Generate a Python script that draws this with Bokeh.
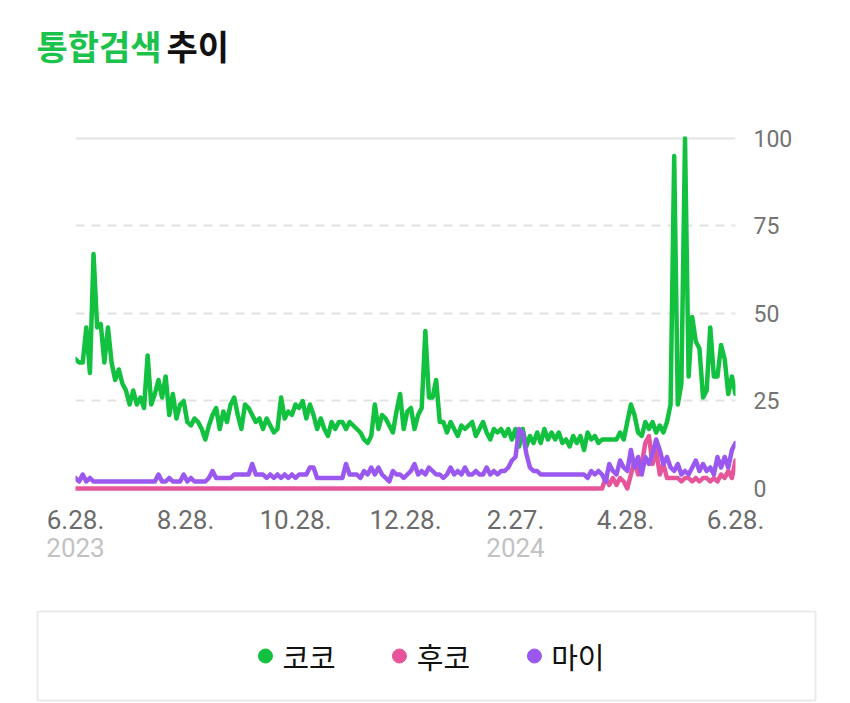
import pandas as pd
from bokeh.plotting import figure
from bokeh.models import (Range1d, LinearAxis, FixedTicker, Grid, Label, Legend,
                          LegendItem, ColumnDataSource)
from bokeh.layouts import column
from bokeh.embed import file_html
from bokeh.resources import INLINE

# ---------------- data (one value every 2 days from 2023-06-28) ----------------
start_date = "2023-06-28"
step = "2D"

koko = [
    37, 36, 36, 46, 33, 67, 46, 47, 36, 46, 36, 31, 34, 30, 28, 24, 28, 24, 26, 23,
    38, 24, 27, 31, 26, 32, 21, 27, 20, 24, 25, 19,
    18, 20, 19, 17, 14, 18, 21, 23, 17, 22, 19, 24, 26, 21, 17, 24, 23, 21, 19, 20,
    17, 20, 18, 16, 17, 26, 20, 22, 21, 24,
    23, 25, 20, 24, 21, 17, 20, 17, 15, 19, 17, 19, 19, 17, 19, 18, 17, 16, 14, 13,
    15, 24, 17, 21, 20, 18, 16, 22,
    27, 17, 22, 23, 17, 21, 23, 45, 26, 26, 31, 19, 19, 16, 19, 17, 15, 18, 17, 18,
    19, 15, 17, 19, 16, 14, 17, 16, 17, 15, 17, 14, 17, 12,
    17, 12, 15, 13, 16, 13, 17, 14, 16, 14, 16, 13, 14, 12, 15, 13, 15, 11, 16, 14,
    15, 13, 14, 14, 14, 14, 14, 16, 14,
    19, 24, 21, 16, 15, 19, 17, 19, 16, 18, 16, 19, 24, 95, 24, 30, 100, 32, 49, 42,
    40, 26, 28, 46, 32, 32, 41, 37, 27, 32, 27,
]

huko = [
    0, 0, 0, 0, 0, 0, 0, 0, 0, 0, 0, 0, 0, 0, 0, 0, 0, 0, 0, 0, 0,
    0, 0, 0, 0, 0, 0, 0, 0, 0, 0, 0, 0, 0, 0, 0, 0, 0, 0, 0, 0, 0,
    0, 0, 0, 0, 0, 0, 0, 0, 0, 0, 0, 0, 0, 0, 0, 0, 0, 0, 0, 0, 0,
    0, 0, 0, 0, 0, 0, 0, 0, 0, 0, 0, 0, 0, 0, 0, 0, 0, 0, 0, 0, 0,
    0, 0, 0, 0, 0, 0, 0, 0, 0, 0, 0, 0, 0, 0, 0, 0, 0, 0, 0, 0, 0,
    0, 0, 0, 0, 0, 0, 0, 0, 0, 0, 0, 0, 0, 0, 0, 0, 0, 0, 0, 0, 0,
    0, 0, 0, 0, 0, 0, 0, 0, 0, 0, 0, 0, 0, 0, 0, 0, 0, 0, 0, 0, 0,
    3, 1, 3, 1, 3, 2, 0, 4, 8, 4, 7, 13, 15, 7, 11, 4, 7, 3, 3, 3,
    3, 2, 3, 3, 2, 3, 2, 3, 3, 2, 3, 2, 4, 3, 5, 3, 8,
]

mai = [
    3, 2, 4, 2, 3, 2, 2, 2, 2, 2, 2, 2, 2, 2, 2, 2, 2, 2, 2, 2,
    2, 2, 2, 4, 2, 2, 3, 2, 2, 2, 4, 2,
    3, 2, 2, 2, 2, 3, 5, 3, 3, 3, 3, 3, 4, 4, 4, 4, 4, 7, 4, 4,
    4, 3, 4, 3, 4, 3, 4, 3, 4, 3,
    4, 4, 4, 6, 6, 3, 3, 3, 3, 3, 3, 3, 3, 7, 4, 4, 4, 3, 5, 4,
    6, 4, 6, 4, 3, 2, 5, 4,
    4, 3, 4, 5, 7, 4, 5, 4, 6, 5, 4, 4, 3, 4, 6, 4, 5, 4, 6, 4,
    4, 5, 4, 4, 6, 4, 5, 4, 5, 5, 6, 8, 9, 17,
    16, 10, 6, 5, 5, 4, 4, 4, 4, 4, 4, 4, 4, 4, 4, 4, 4, 4, 3, 5,
    4, 5, 4, 2, 7, 5, 4, 8, 6,
    5, 11, 6, 9, 4, 9, 7, 10, 14, 11, 7, 9, 6, 5, 7, 4, 5, 4, 6, 8,
    5, 7, 5, 6, 4, 9, 6, 9, 6, 11, 13,
]

series_names = ["코코", "후코", "마이"]
series_colors = ["#12c13f", "#e6559a", "#9a58f0"]

tick_dates = ["2023-06-28", "2023-08-28", "2023-10-28", "2023-12-28",
              "2024-02-27", "2024-04-28", "2024-06-28"]
tick_labels = ["6.28.", "8.28.", "10.28.", "12.28.", "2.27.", "4.28.", "6.28."]
year_labels = ["2023", "", "", "", "2024", "", ""]
y_ticks = [0, 25, 50, 75, 100]
y_dashed = [25, 50, 75]
y_solid = [100]

title_green = "통합검색"
title_black = "추이"

# ---------------- derived positions (days since start) ----------------
t0 = pd.Timestamp(start_date)
dates = pd.date_range(t0, periods=len(koko), freq=step)
days = [(d - t0).days for d in dates]
tick_x = [(pd.Timestamp(d) - t0).days for d in tick_dates]
year_x = [x for x, l in zip(tick_x, year_labels) if l]
year_txt = [l for l in year_labels if l]

src = ColumnDataSource(dict(x=days, koko=koko, huko=huko, mai=mai))


def hide_grids(fig):
    for r in list(fig.center):
        if isinstance(r, Grid):
            r.visible = False


# ---------------- title strip ----------------
p0 = figure(width=850, height=95, output_backend="svg", toolbar_location=None,
            x_range=Range1d(0, 850), y_range=Range1d(95, 0),
            x_axis_location=None, y_axis_location=None, title=None,
            min_border=0, outline_line_color=None, frame_align=False,
            background_fill_color="white", border_fill_color="white")
hide_grids(p0)
p0.add_layout(Label(x=36, y=45, text=title_green, text_font="Noto Sans CJK KR",
                    text_font_style="bold", text_font_size="34px",
                    text_color="#1bc24b", text_baseline="middle", text_align="left"))
p0.add_layout(Label(x=166, y=45, text=title_black, text_font="Noto Sans CJK KR",
                    text_font_style="bold", text_font_size="34px",
                    text_color="#111111", text_baseline="middle", text_align="left"))

# ---------------- main chart ----------------
p = figure(width=850, height=510, output_backend="svg", toolbar_location=None,
           x_range=Range1d(tick_x[0], tick_x[-1]), y_range=Range1d(-2, 110.857),
           x_axis_location=None, y_axis_location=None,
           min_border_left=75, min_border_right=115, min_border_top=5,
           min_border_bottom=110, outline_line_color=None, frame_align=False,
           background_fill_color="white", border_fill_color="white")
hide_grids(p)

p.add_layout(Grid(dimension=1, ticker=FixedTicker(ticks=y_dashed),
                  grid_line_color="#e3e3e3", grid_line_width=2,
                  grid_line_dash="9 7"))
p.add_layout(Grid(dimension=1, ticker=FixedTicker(ticks=y_solid),
                  grid_line_color="#e3e3e3", grid_line_width=2))

for key, col in zip(["koko", "huko", "mai"], series_colors):
    p.line("x", key, source=src, line_color=col, line_width=4.5,
           line_join="round", line_cap="round")

xaxis = LinearAxis(ticker=FixedTicker(ticks=tick_x),
                   major_label_overrides={x: l for x, l in zip(tick_x, tick_labels)},
                   axis_line_color=None, major_tick_line_color=None,
                   minor_tick_line_color=None, major_label_standoff=8,
                   major_label_text_font="Roboto", major_label_text_font_size="26px",
                   major_label_text_color="#6b6b6b")
p.add_layout(xaxis, "below")

yearaxis = LinearAxis(ticker=FixedTicker(ticks=year_x),
                      major_label_overrides={x: l for x, l in zip(year_x, year_txt)},
                      axis_line_color=None, major_tick_line_color=None,
                      minor_tick_line_color=None, major_label_standoff=0,
                      major_label_text_font="Roboto", major_label_text_font_size="26px",
                      major_label_text_color="#c2c2c2")
p.add_layout(yearaxis, "below")

yaxis = LinearAxis(ticker=FixedTicker(ticks=y_ticks),
                   axis_line_color=None, major_tick_line_color=None,
                   minor_tick_line_color=None, major_label_standoff=12,
                   major_label_text_font="Roboto", major_label_text_font_size="23px",
                   major_label_text_color="#737373")
p.add_layout(yaxis, "right")

# ---------------- legend box ----------------
p2 = figure(width=850, height=98, output_backend="svg", toolbar_location=None,
            x_range=Range1d(0, 1), y_range=Range1d(0, 1),
            x_axis_location=None, y_axis_location=None,
            min_border_left=37, min_border_right=35, min_border_top=6,
            min_border_bottom=3, outline_line_color="#ebebeb", outline_line_width=2,
            frame_align=False,
            background_fill_color="white", border_fill_color="white")
hide_grids(p2)

items = []
for name, col in zip(series_names, series_colors):
    rr = p2.scatter(x=[float("nan")], y=[float("nan")], marker="circle", size=14,
                    fill_color=col, line_color=col)
    items.append(LegendItem(label=name, renderers=[rr]))

legend = Legend(items=items, location="center", orientation="horizontal",
                border_line_color=None, background_fill_alpha=0,
                glyph_width=35, glyph_height=35, label_standoff=0, spacing=46,
                label_text_font="Noto Sans CJK KR", label_text_font_size="29px",
                label_text_color="#111111", padding=0, margin=0)
p2.add_layout(legend, "center")

layout = column(p0, p, p2, spacing=0)
open("out.html", "w").write(file_html(layout, INLINE))
